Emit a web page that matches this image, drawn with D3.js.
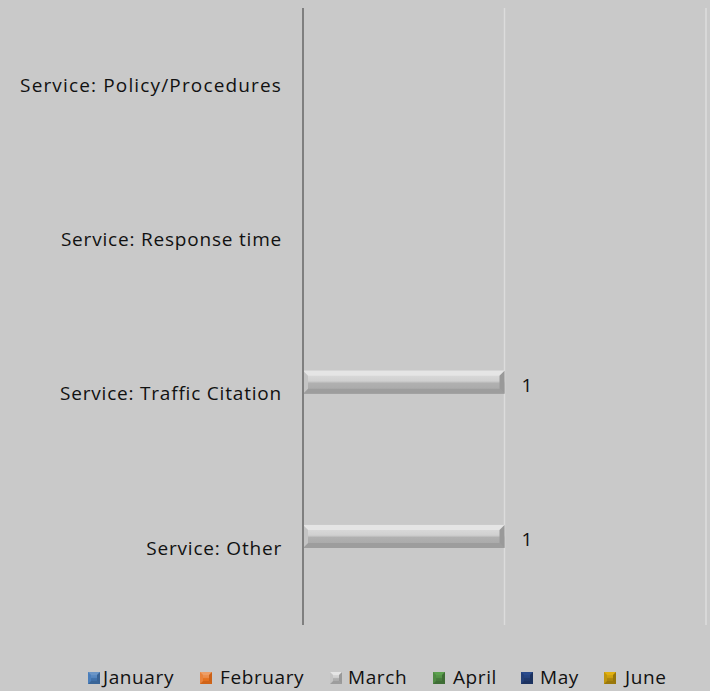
<!DOCTYPE html>
<html>
<head>
<meta charset="utf-8">
<script src="https://cdn.jsdelivr.net/npm/d3@7"></script>
<style>
  html, body { margin: 0; padding: 0; background: #c9c9c9; }
  svg { display: block; }
  text { font-family: "Open Sans", "Noto Sans", sans-serif; fill: #111; }
</style>
</head>
<body>
<svg id="chart" width="710" height="691"></svg>
<script>
// Complaint categories (top to bottom) and monthly series
const categories = [
  "Service: Policy/Procedures",
  "Service: Response time",
  "Service: Traffic Citation",
  "Service: Other"
];
const months = ["January", "February", "March", "April", "May", "June"];
// Counts per month, one array per category order above (null = no entry)
const january  = [null, null, null, null];
const february = [null, null, null, null];
const march    = [null, null, 1, 1];
const april    = [null, null, null, null];
const may      = [null, null, null, null];
const june     = [null, null, null, null];
const xTicks = [0, 1, 2];

const seriesValues = [january, february, march, april, may, june];
const seriesColors = ["#4a7ebb", "#e8823a", "#c4c4c4", "#4f8a43", "#233f78", "#c0960e"];

const svg = d3.select("#chart");
const plot = { left: 303, right: 706, top: 8, bottom: 625 };

const x = d3.scaleLinear().domain([0, 2]).range([plot.left, plot.right]);
const y = d3.scaleBand().domain(categories).range([plot.top, plot.bottom]).paddingInner(0.106).paddingOuter(0.053);
const ySub = d3.scaleBand().domain(months).range([0, y.bandwidth()]);

// gradients for the bar faces
const defs = svg.append("defs");
function shade(c, k) { const h = d3.hsl(c); h.l = Math.max(0, Math.min(1, h.l * k)); return h.formatHex(); }
seriesColors.forEach((c, i) => {
  const g = defs.append("linearGradient").attr("id", "face" + i).attr("x1", 0).attr("y1", 0).attr("x2", 0).attr("y2", 1);
  g.append("stop").attr("offset", "0%").attr("stop-color", shade(c, 1.14));
  g.append("stop").attr("offset", "45%").attr("stop-color", shade(c, 1.06));
  g.append("stop").attr("offset", "55%").attr("stop-color", shade(c, 0.9));
  g.append("stop").attr("offset", "100%").attr("stop-color", shade(c, 0.85));
});

// vertical gridlines
svg.append("g").selectAll("line").data(xTicks.filter(t => t > 0)).join("line")
  .attr("x1", d => x(d)).attr("x2", d => x(d))
  .attr("y1", plot.top).attr("y2", plot.bottom)
  .attr("stroke", "#dcdcdc").attr("stroke-width", 1.5);

// beveled bar shape
function bevelBar(g, x0, y0, x1, y1, ci, bmax) {
  const c = seriesColors[ci];
  const b = Math.min(bmax || 5, (y1 - y0) / 4, (x1 - x0) / 4);
  g.append("rect").attr("x", x0).attr("y", y0).attr("width", x1 - x0).attr("height", y1 - y0)
    .attr("fill", `url(#face${ci})`);
  const poly = (pts, fill) => g.append("polygon").attr("points", pts.map(p => p.join(",")).join(" ")).attr("fill", fill);
  poly([[x0, y0], [x1, y0], [x1 - b, y0 + b], [x0 + b, y0 + b]], shade(c, 1.17));
  poly([[x0, y1], [x1, y1], [x1 - b, y1 - b], [x0 + b, y1 - b]], shade(c, 0.8));
  poly([[x0, y0], [x0 + b, y0 + b], [x0 + b, y1 - b], [x0, y1]], shade(c, 1.0));
  poly([[x1, y0], [x1 - b, y0 + b], [x1 - b, y1 - b], [x1, y1]], shade(c, 0.78));
}

const bars = svg.append("g");
seriesValues.forEach((vals, si) => {
  vals.forEach((v, ci) => {
    if (v == null) return;
    const y0 = y(categories[ci]) + ySub(months[si]);
    const y1 = y0 + ySub.bandwidth();
    bevelBar(bars, x(0), y0, x(v), y1, si);
    svg.append("text")
      .attr("x", x(v) + 17).attr("y", y1 - 1.5)
      .attr("font-size", 19)
      .text(v);
  });
});

// category axis line
svg.append("line").attr("x1", x(0)).attr("x2", x(0))
  .attr("y1", plot.top).attr("y2", plot.bottom)
  .attr("stroke", "#7f7f7f").attr("stroke-width", 2);

svg.append("g").selectAll("text").data(categories).join("text")
  .attr("x", 282).attr("y", d => y(d) + y.bandwidth() / 2)
  .attr("dy", "0.35em").attr("text-anchor", "end").attr("font-size", 19)
  .attr("letter-spacing", d => d.length > 25 ? 1.15 : 0.8)
  .text(d => d);

// legend
const swatchX = [88, 200, 330, 433, 521, 604];
const labelX = [103, 220, 348, 453, 540, 625];
const lg = svg.append("g");
months.forEach((m, i) => {
  const gy = 672;
  bevelBar(lg, swatchX[i], gy, swatchX[i] + 12, gy + 12, i, 3);
  lg.append("text").attr("x", labelX[i]).attr("y", 684)
    .attr("font-size", 19).attr("letter-spacing", 0.6).text(m);
});
</script>
</body>
</html>
